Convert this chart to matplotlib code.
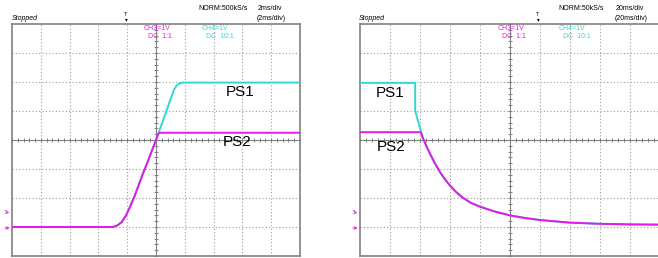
#!/usr/bin/env python3
"""Two oscilloscope captures: PS1/PS2 power-up and power-down sequencing."""
import matplotlib
matplotlib.use("Agg")
import matplotlib.pyplot as plt
import numpy as np

# waveforms in screen divisions (x: -5..5, y: -4..4)
rise_ps1_x = [-5, -1.5, -1.35, -1.2, -1.05, -0.9, -0.75, -0.6, -0.45, -0.3, 0, 0.3, 0.5, 0.62, 0.7, 0.8, 0.9, 5]
rise_ps1_y = [-3, -3, -2.95, -2.84, -2.62, -2.3, -1.95, -1.55, -1.15, -0.78, 0, 0.83, 1.39, 1.72, 1.86, 1.95, 1.98, 1.98]
rise_ps2_x = [-5, -1.5, -1.35, -1.2, -1.05, -0.9, -0.75, -0.6, -0.45, -0.3, 0, 0.08, 0.15, 5]
rise_ps2_y = [-3, -3, -2.95, -2.84, -2.62, -2.3, -1.95, -1.55, -1.15, -0.78, 0, 0.22, 0.25, 0.25]

fall_x = [-2.98, -2.9, -2.8, -2.7, -2.6, -2.45, -2.3, -2.15, -2.0, -1.8, -1.56, -1.3, -1.0, -0.5, 0, 0.5, 1, 2, 3, 4, 5]
fall_y = [0.27, 0.06, -0.18, -0.40, -0.61, -0.9, -1.16, -1.38, -1.57, -1.79, -2.0, -2.17, -2.3, -2.47, -2.6, -2.69, -2.76, -2.85, -2.89, -2.91, -2.92]
fall_ps1_x = [-5, -3.16, -3.16] + fall_x[1:]
fall_ps1_y = [1.97, 1.97, 1.0] + fall_y[1:]
fall_ps2_x = [-5] + fall_x
fall_ps2_y = [0.27] + fall_y

left_header = {"rate": "NORM:500kS/s", "div": "2ms/div", "div2": "(2ms/div)"}
right_header = {"rate": "NORM:50kS/s", "div": "20ms/div", "div2": "(20ms/div)"}

CYAN = "#2ED8D8"
MAGENTA = "#E619E6"
GRID = "#9a9a9a"
FRAME = "#808080"

W, H = 658, 258
fig = plt.figure(figsize=(W / 100, H / 100), dpi=100)
plt.rcParams["font.family"] = ["Liberation Sans", "DejaVu Sans"]


def px(x, y):
    return x / W, 1 - y / H


def scope_axes(x0, x1, y0, y1):
    ax = fig.add_axes([x0 / W, 1 - y1 / H, (x1 - x0) / W, (y1 - y0) / H])
    ax.set_xlim(-5, 5)
    ax.set_ylim(-4, 4)
    ax.set_xticks([]); ax.set_yticks([])
    for s in ax.spines.values():
        s.set_color(FRAME); s.set_linewidth(1.2)
    for v in range(-4, 5):
        if v != 0:
            ax.axvline(v, color=GRID, lw=0.8, ls=(0, (1, 2)), zorder=1)
    for v in range(-3, 4):
        if v != 0:
            ax.axhline(v, color=GRID, lw=0.8, ls=(0, (1, 2)), zorder=1)
    ax.axhline(0, color=FRAME, lw=0.8, zorder=1)
    ax.axvline(0, color=FRAME, lw=0.8, zorder=1)
    tx = np.arange(-5, 5.01, 0.2)
    ty = np.arange(-4, 4.01, 0.2)
    ax.plot(tx, np.zeros_like(tx), ls="none", marker="|", ms=3, mew=0.7, color=FRAME, zorder=1)
    ax.plot(np.zeros_like(ty), ty, ls="none", marker="_", ms=3, mew=0.7, color=FRAME, zorder=1)
    return ax


def header(xs, hdr, x_trig, xch3, xch4):
    fs = 5
    fig.text(*px(xs, 19), "Stopped", fontsize=fs, style="italic", va="center")
    fig.text(*px(hdr[0], 9), hdr[3]["rate"], fontsize=fs, va="center")
    fig.text(*px(hdr[1], 9), hdr[3]["div"], fontsize=fs, va="center")
    fig.text(*px(hdr[2], 19), hdr[3]["div2"], fontsize=fs, va="center")
    fig.text(*px(x_trig, 15), "T", fontsize=4, ha="center", va="center")
    fig.text(*px(x_trig, 20), "▾", fontsize=4, ha="center", va="center", family="DejaVu Sans")
    fig.text(*px(xch3, 28), "CH3=1V", fontsize=fs, color=MAGENTA, va="center")
    fig.text(*px(xch3 + 4, 36), "DC  1:1", fontsize=fs, color=MAGENTA, va="center")
    fig.text(*px(xch4, 28), "CH4=1V", fontsize=fs, color=CYAN, va="center")
    fig.text(*px(xch4 + 4, 36), "DC  10:1", fontsize=fs, color=CYAN, va="center")


def ground_marks(x):
    fig.text(*px(x, 213), "3▸", fontsize=4, color=MAGENTA, ha="center", va="center", family="DejaVu Sans")
    fig.text(*px(x, 229), "4▾", fontsize=4, color=MAGENTA, ha="center", va="center", family="DejaVu Sans")


# left: power-up
ax1 = scope_axes(12, 300, 24, 256)
ax1.plot(rise_ps1_x, rise_ps1_y, color=CYAN, lw=1.4, zorder=3)
ax1.plot(rise_ps2_x, rise_ps2_y, color=MAGENTA, lw=1.4, zorder=4)
ax1.text((240 - 12) / 288 * 10 - 5, (140 - 92) / 29, "PS1", fontsize=11, ha="center", va="center")
ax1.text((237 - 12) / 288 * 10 - 5, (140 - 141.5) / 29, "PS2", fontsize=11, ha="center", va="center")
header(12, (198, 258, 257, left_header), 126, 144, 202)
ground_marks(7)

# right: power-down
ax2 = scope_axes(360, 660, 24, 256)
ax2.plot(fall_ps1_x, fall_ps1_y, color=CYAN, lw=1.4, zorder=3)
ax2.plot(fall_ps2_x, fall_ps2_y, color=MAGENTA, lw=1.4, zorder=4)
ax2.text(-4.0, (140 - 93) / 29, "PS1", fontsize=11, ha="center", va="center")
ax2.text(-3.95, (140 - 147) / 29, "PS2", fontsize=11, ha="center", va="center")
header(359, (558, 616, 615, right_header), 538, 498, 559)
ground_marks(355)

fig.savefig("out.png", dpi=100)
